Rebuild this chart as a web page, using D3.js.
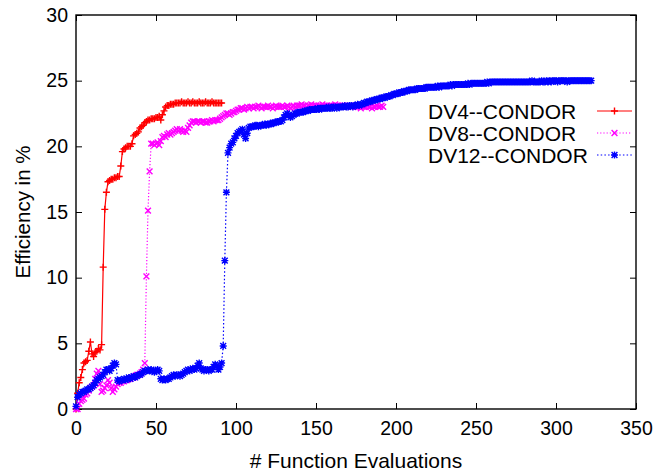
<!DOCTYPE html>
<html>
<head>
<meta charset="utf-8">
<script src="https://cdn.jsdelivr.net/npm/d3@7"></script>
<style>
  body { margin: 0; background: #fff; }
  text { font-family: "Liberation Sans", Arial, Helvetica, sans-serif; fill: #000; }
</style>
</head>
<body>
<div id="chart"></div>
<script>
// Axis ticks
const xTicks = [0, 50, 100, 150, 200, 250, 300, 350];
const yTicks = [0, 5, 10, 15, 20, 25, 30];

// Series labels and colors
const seriesNames = ["DV4--CONDOR", "DV8--CONDOR", "DV12--CONDOR"];
const seriesColors = ["#ff0000", "#ff00ff", "#0000ff"];

// Efficiency (%) per function evaluation, one value per evaluation (x = index)
const dv4 = [
  0, 1.2, 2.0, 2.4, 3.0, 3.5, 3.6, 3.7, 4.4, 5.1,
  4.2, 4.0, 4.3, 4.4, 4.6, 4.5, 4.9, 10.8, 15.2, 16.5,
  17.3, 17.4, 17.5, 17.5, 17.6, 17.6, 17.7, 17.7, 18.5, 19.6,
  19.8, 19.9, 20.0, 20.0, 20.0, 20.2, 20.8, 20.9, 21.0, 21.1,
  21.4, 21.5, 21.6, 21.8, 21.9, 22.0, 22.0, 22.1, 22.1, 22.1,
  22.2, 22.2, 22.3, 22.0, 22.4, 22.7, 23.0, 23.1, 23.1, 23.2,
  23.2, 23.2, 23.3, 23.3, 23.3, 23.3, 23.4, 23.3, 23.3, 23.3,
  23.4, 23.3, 23.3, 23.4, 23.3, 23.3, 23.3, 23.4, 23.3, 23.3,
  23.3, 23.4, 23.3, 23.3, 23.3, 23.4, 23.3, 23.3, 23.3, 23.3,
  23.3, 23.3
];

const dv8 = [
  0, 0.0, 0.4, 0.6, 0.7, 0.8, 1.1, 1.2, 1.4, 1.6,
  1.7, 1.8, 2.3, 2.7, 2.9, 1.9, 1.3, 1.4, 1.6, 1.8,
  2.2, 2.0, 1.6, 1.3, 1.5, 1.7, 1.9, 2.0, 2.0, 2.1,
  2.1, 2.2, 2.2, 2.3, 2.3, 2.4, 2.4, 2.5, 2.6, 2.6,
  2.7, 2.8, 3.0, 3.5, 10.1, 15.1, 18.1, 20.2, 20.2, 20.1,
  20.2, 20.3, 20.1, 20.4, 20.7, 20.8, 20.7, 20.9, 21.0, 20.9,
  21.0, 21.1, 21.2, 21.3, 21.2, 21.3, 21.2, 21.1, 21.2, 21.1,
  21.4, 21.6, 21.8, 21.9, 21.9, 21.8, 21.9, 21.9, 21.8, 21.9,
  21.9, 21.8, 21.8, 21.9, 21.9, 22.0, 21.9, 22.0, 22.0, 22.0,
  22.1, 22.2, 22.3, 22.4, 22.5, 22.5, 22.4, 22.5, 22.6, 22.6,
  22.7, 22.8, 22.8, 22.9, 22.9, 22.8, 22.9, 23.0, 22.9, 23.0,
  23.0, 22.9, 23.0, 23.0, 23.1, 23.0, 22.9, 23.0, 23.0, 23.0,
  23.1, 23.0, 23.0, 22.9, 23.0, 23.1, 23.0, 23.0, 23.0, 23.1,
  23.0, 23.0, 23.1, 23.0, 22.9, 23.0, 23.1, 23.0, 23.1, 23.1,
  23.1, 23.2, 23.1, 23.1, 23.0, 23.1, 23.1, 23.2, 23.1, 23.1,
  23.1, 23.0, 23.1, 23.1, 23.2, 23.1, 23.1, 23.1, 23.0, 23.1,
  23.1, 23.1, 23.2, 23.1, 23.1, 23.0, 23.1, 23.1, 23.1, 23.0,
  23.0, 23.1, 23.0, 23.0, 23.1, 23.0, 23.0, 23.0, 22.9, 23.0,
  23.0, 23.0, 23.1, 23.0, 23.0, 22.9, 23.0, 23.0, 23.1, 23.0,
  23.0, 23.1, 23.0
];

const dv12 = [
  0.2, 0.9, 1.1, 1.2, 1.3, 1.3, 1.4, 1.5, 1.5, 1.6,
  1.7, 1.8, 2.0, 2.2, 2.3, 2.4, 2.5, 2.6, 2.8, 3.0,
  3.0, 2.9, 3.1, 3.3, 3.5, 3.4, 2.2, 2.1, 2.2, 2.2,
  2.3, 2.2, 2.3, 2.4, 2.3, 2.4, 2.5, 2.4, 2.5, 2.6,
  2.6, 2.7, 2.8, 2.9, 2.9, 3.0, 2.9, 3.0, 2.9, 2.8,
  2.9, 3.0, 2.9, 2.3, 2.2, 2.3, 2.2, 2.3, 2.3, 2.4,
  2.5, 2.6, 2.5, 2.6, 2.6, 2.5, 2.6, 2.7, 2.8, 2.9,
  3.0, 2.9, 3.0, 3.1, 3.0, 3.1, 3.3, 3.5, 3.1, 3.0,
  2.9, 3.0, 3.0, 2.9, 3.0, 3.0, 3.2, 3.4, 3.3, 3.0,
  3.2, 3.5, 4.8, 11.3, 16.5, 19.5, 19.9, 20.2, 20.3, 20.6,
  20.8, 21.0, 21.1, 21.2, 21.3, 20.9, 20.6, 21.0, 21.4, 21.5,
  21.5, 21.5, 21.6, 21.6, 21.5, 21.6, 21.6, 21.6, 21.7, 21.6,
  21.7, 21.7, 21.7, 21.8, 21.8, 21.8, 21.9, 21.9, 21.9, 22.0,
  22.2, 22.4, 22.5, 22.4, 22.2, 22.3, 22.4, 22.5, 22.5, 22.6,
  22.6, 22.6, 22.6, 22.7, 22.7, 22.7, 22.8, 22.8, 22.8, 22.8,
  22.8, 22.9, 22.8, 22.9, 22.9, 22.9, 22.9, 22.9, 23.0, 22.9,
  22.9, 23.0, 23.0, 22.9, 23.0, 23.0, 23.0, 23.0, 23.1, 23.0,
  23.0, 23.1, 23.1, 23.0, 23.1, 23.1, 23.2, 23.1, 23.2, 23.2,
  23.3, 23.3, 23.4, 23.4, 23.4, 23.5, 23.5, 23.5, 23.6, 23.6,
  23.6, 23.7, 23.7, 23.7, 23.8, 23.8, 23.8, 23.9, 23.9, 24.0,
  24.0, 24.0, 24.1, 24.1, 24.1, 24.2, 24.2, 24.2, 24.3, 24.3,
  24.3, 24.3, 24.3, 24.4, 24.4, 24.4, 24.4, 24.4, 24.4, 24.5,
  24.5, 24.5, 24.5, 24.5, 24.5, 24.5, 24.6, 24.5, 24.6, 24.6,
  24.6, 24.6, 24.6, 24.6, 24.7, 24.6, 24.7, 24.7, 24.7, 24.7,
  24.7, 24.7, 24.7, 24.7, 24.7, 24.8, 24.7, 24.8, 24.8, 24.8,
  24.8, 24.8, 24.8, 24.8, 24.8, 24.8, 24.8, 24.9, 24.8, 24.9,
  24.9, 24.9, 24.9, 24.9, 24.9, 24.9, 24.9, 24.9, 24.9, 24.9,
  24.9, 24.9, 24.9, 24.9, 24.9, 24.9, 24.9, 24.9, 24.9, 24.9,
  24.9, 24.9, 24.9, 24.9, 24.9, 25.0, 24.9, 24.9, 24.9, 24.9,
  24.9, 25.0, 24.9, 24.9, 25.0, 24.9, 25.0, 24.9, 25.0, 25.0,
  25.0, 24.9, 25.0, 25.0, 25.0, 25.0, 25.0, 24.9, 25.0, 25.0,
  25.0, 25.0, 25.0, 25.0, 25.0, 25.0, 25.0, 25.0, 25.0, 25.0,
  25.0, 25.0, 25.0
];

const width = 656;
const height = 474;
const plot = { left: 76, right: 636, top: 15, bottom: 409 };

const svg = d3
  .select("#chart")
  .append("svg")
  .attr("width", width)
  .attr("height", height);

const x = d3.scaleLinear().domain([0, 350]).range([plot.left, plot.right]);
const y = d3.scaleLinear().domain([0, 30]).range([plot.bottom, plot.top]);

// Axes, ticks inside the box, mirrored on top/right (gnuplot style)
svg
  .append("g")
  .attr("transform", `translate(0,${plot.bottom})`)
  .call(d3.axisBottom(x).tickValues(xTicks).tickSizeInner(-6).tickSizeOuter(0).tickPadding(12))
  .call((g) => g.select(".domain").remove())
  .call((g) => g.selectAll("text").style("font-size", "19.5px"));

svg
  .append("g")
  .attr("transform", `translate(${plot.left},0)`)
  .call(d3.axisLeft(y).tickValues(yTicks).tickSizeInner(-6).tickSizeOuter(0).tickPadding(8))
  .call((g) => g.select(".domain").remove())
  .call((g) => g.selectAll("text").style("font-size", "19.5px"));

svg
  .append("g")
  .attr("transform", `translate(0,${plot.top})`)
  .call(d3.axisTop(x).tickValues(xTicks).tickSizeInner(-6).tickSizeOuter(0).tickFormat(""))
  .call((g) => g.select(".domain").remove());

svg
  .append("g")
  .attr("transform", `translate(${plot.right},0)`)
  .call(d3.axisRight(y).tickValues(yTicks).tickSizeInner(-6).tickSizeOuter(0).tickFormat(""))
  .call((g) => g.select(".domain").remove());

// Border box
svg
  .append("rect")
  .attr("x", plot.left)
  .attr("y", plot.top)
  .attr("width", plot.right - plot.left)
  .attr("height", plot.bottom - plot.top)
  .attr("fill", "none")
  .attr("stroke", "#000")
  .attr("stroke-width", 1.4);

// Axis titles
svg
  .append("text")
  .attr("x", (plot.left + plot.right) / 2)
  .attr("y", 468)
  .attr("text-anchor", "middle")
  .style("font-size", "21px")
  .text("# Function Evaluations");

svg
  .append("text")
  .attr("transform", `translate(30,${(plot.top + plot.bottom) / 2}) rotate(-90)`)
  .attr("text-anchor", "middle")
  .style("font-size", "20.5px")
  .text("Efficiency in %");

// Marker shapes: plus, times, star (plus + times)
function markerPath(type, cx, cy) {
  const p = d3.path();
  const a = 3.5;
  const b = 2.9;
  if (type === 0 || type === 2) {
    p.moveTo(cx - a, cy); p.lineTo(cx + a, cy);
    p.moveTo(cx, cy - a); p.lineTo(cx, cy + a);
  }
  if (type === 1 || type === 2) {
    p.moveTo(cx - b, cy - b); p.lineTo(cx + b, cy + b);
    p.moveTo(cx - b, cy + b); p.lineTo(cx + b, cy - b);
  }
  return p.toString();
}

const allSeries = [dv4, dv8, dv12];
const dashes = [null, "1.2,2", "1.5,2.2"];

const line = d3
  .line()
  .x((d, i) => x(i))
  .y((d) => y(d));

allSeries.forEach((values, k) => {
  const g = svg.append("g").attr("class", "series");
  g.append("path")
    .datum(values)
    .attr("d", line)
    .attr("fill", "none")
    .attr("stroke", seriesColors[k])
    .attr("stroke-width", 1.2)
    .attr("stroke-dasharray", dashes[k]);

  g.selectAll("path.pt")
    .data(values)
    .join("path")
    .attr("class", "pt")
    .attr("d", (d, i) => markerPath(k, x(i), y(d)))
    .attr("fill", "none")
    .attr("stroke", seriesColors[k])
    .attr("stroke-width", 1.4);
});

// Legend
const legend = svg.append("g").attr("class", "legend");
seriesNames.forEach((name, k) => {
  const cy = 111 + k * 22;
  legend
    .append("text")
    .attr("x", 428)
    .attr("y", cy + 7.5)
    .style("font-size", "21px")
    .text(name);
  legend
    .append("line")
    .attr("x1", 597)
    .attr("x2", 632)
    .attr("y1", cy)
    .attr("y2", cy)
    .attr("stroke", seriesColors[k])
    .attr("stroke-width", 1.2)
    .attr("stroke-dasharray", dashes[k]);
  legend
    .append("path")
    .attr("d", markerPath(k, 614.5, cy))
    .attr("fill", "none")
    .attr("stroke", seriesColors[k])
    .attr("stroke-width", 1.4);
});
</script>
</body>
</html>
